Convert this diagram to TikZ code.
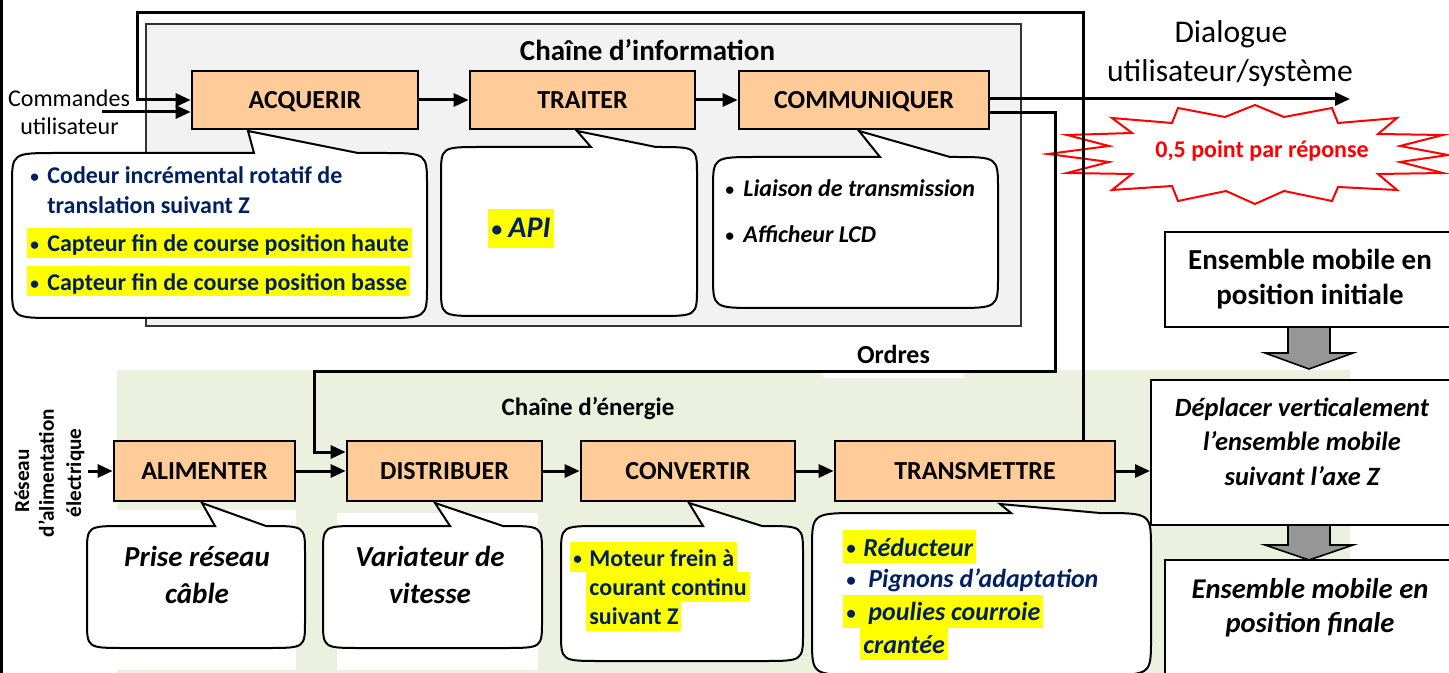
\documentclass[tikz,border=0pt]{standalone}
\usepackage{fontspec}
\setmainfont{Carlito}
\usetikzlibrary{arrows.meta}
\definecolor{peach}{HTML}{FFCC99}
\definecolor{navy}{HTML}{002060}
\definecolor{grbg}{HTML}{EBF1DE}
\definecolor{infobg}{HTML}{F2F2F2}
\definecolor{hly}{HTML}{FFFF00}
\definecolor{garr}{HTML}{969696}
\newcommand\fsz[1]{\fontsize{#1pt}{#1pt}\selectfont}
\newcommand\bul[1]{\makebox[#1][l]{\raisebox{0.05em}{\scalebox{0.72}{•}}}}
\newcommand\mybubble[9]{%
  \draw[bub] (#7,#2) -- (#5,#6) -- (#8,#2) -- (#3-#9,#2) .. controls (#3,#2) .. (#3,#2+0.72*#9)
   -- (#3,#4-0.72*#9) .. controls (#3,#4) .. (#3-#9,#4) -- (#1+#9,#4) .. controls (#1,#4) .. (#1,#4-0.72*#9)
   -- (#1,#2+0.72*#9) .. controls (#1,#2) .. (#1+#9,#2) -- cycle;}
\tikzset{
  conn/.style={line width=1.5pt, -{Triangle[length=7.5pt,width=6.5pt]}},
  fnbox/.style={draw=black, line width=1.35pt, fill=peach, inner sep=0pt, font=\bfseries\fsz{13}, text height=8.4pt, text depth=0pt},
  bub/.style={draw=black, line width=1pt, fill=white},
  rbox/.style={draw=black, line width=1pt, fill=white, inner sep=0pt},
  garrow/.style={draw=black, line width=0.8pt, fill=garr},
  bn12/.style={anchor=west, inner xsep=1.5pt, inner ysep=0pt, text height=12pt, text depth=3pt, font=\bfseries\fsz{12}, text=navy},
  bik12/.style={anchor=west, inner xsep=1.5pt, inner ysep=0pt, text height=12pt, text depth=3pt, font=\bfseries\itshape\fsz{12}, text=black},
  bin13/.style={anchor=west, inner xsep=1.5pt, inner ysep=0pt, text height=13pt, text depth=3.5pt, font=\bfseries\itshape\fsz{13}, text=navy},
  hl/.style={fill=hly},
  lbl/.style={anchor=base, inner sep=0pt},
  rot/.style={anchor=base, inner sep=0pt, rotate=90, font=\bfseries\fsz{10.6}},
}
\begin{document}
\begin{tikzpicture}[x=0.5pt,y=-0.5pt]
\useasboundingbox (0,0) rectangle (1449,673);
\clip (0,0) rectangle (1449,673);
% backgrounds
\fill[grbg] (117,370) rectangle (1350,673);
\fill[white] (117,510) rectangle (296,670);
\fill[white] (337,513) rectangle (538,670);
\fill[white] (823,371) rectangle (964,378);
\draw[black!80, line width=0.9pt, fill=infobg] (146,24) rectangle (1021,326);
\draw[line width=1.5pt] (1.5,0) -- (1.5,673);
% starburst
\draw[draw=red, line width=1pt, fill=white] (1178,108) -- (1225,117) -- (1255,105) -- (1284,117) -- (1332,108) -- (1338,123) -- (1397,118) -- (1378,134) -- (1443,135) -- (1400,146) -- (1448,155) -- (1400,162) -- (1443,173) -- (1378,174) -- (1397,190) -- (1338,187) -- (1332,201) -- (1284,191) -- (1255,204) -- (1226,191) -- (1178,201) -- (1172,186) -- (1112,190) -- (1132,174) -- (1067,173) -- (1109,162) -- (1048,154) -- (1109,146) -- (1067,135) -- (1132,133) -- (1112,118) -- (1172,123) -- cycle;
\node[lbl, font=\bfseries\fsz{12}, text=red] (pts) at (1262,158) {0,5 point par réponse};
% function boxes
\node[fnbox, minimum width=113pt, minimum height=29pt] (acq) at (305,100) {ACQUERIR};
\node[fnbox, minimum width=112.5pt, minimum height=29pt] (tra) at (582.5,100) {TRAITER};
\node[fnbox, minimum width=125pt, minimum height=29pt] (com) at (864,100) {COMMUNIQUER};
\node[fnbox, minimum width=90.5pt, minimum height=30pt] (ali) at (204.5,471) {ALIMENTER};
\node[fnbox, minimum width=97.5pt, minimum height=30pt] (dis) at (444.5,471) {DISTRIBUER};
\node[fnbox, minimum width=107pt, minimum height=30pt] (conv) at (688,471) {CONVERTIR};
\node[fnbox, minimum width=140pt, minimum height=30pt] (trans) at (975,471) {TRANSMETTRE};
% right column
\node[rbox, minimum width=147.5pt, minimum height=47.5pt] (ini) at (1312.5,279.5) {};
\node[rbox, minimum width=154.5pt, minimum height=72.5pt] (dep) at (1305.5,452.5) {};
\node[rbox, minimum width=147.5pt, minimum height=65pt] (fin) at (1312.5,625) {};
\draw[garrow] (1288,327) -- (1330,327) -- (1330,353) -- (1353,353) -- (1309,369) -- (1265,353) -- (1288,353) -- cycle;
\draw[garrow] (1288,525) -- (1330,525) -- (1330,545) -- (1353,545) -- (1309,560) -- (1265,545) -- (1288,545) -- cycle;
\node[lbl, font=\bfseries\fsz{14.5}] (ini1) at (1310,270) {Ensemble mobile en};
\node[lbl, font=\bfseries\fsz{14.5}] (ini2) at (1310,305) {position initiale};
\node[lbl, font=\bfseries\itshape\fsz{13.2}] (dep1) at (1302,416) {Déplacer verticalement};
\node[lbl, font=\bfseries\itshape\fsz{13.2}] (dep2) at (1302,450) {l’ensemble mobile};
\node[lbl, font=\bfseries\itshape\fsz{13.2}] (dep3) at (1302,485) {suivant l’axe Z};
\node[lbl, font=\bfseries\itshape\fsz{14.3}] (fin1) at (1310,598) {Ensemble mobile en};
\node[lbl, font=\bfseries\itshape\fsz{14.3}] (fin2) at (1310,632) {position finale};
% connectors
\coordinate (fbR) at (1083,13);
\coordinate (fbL) at (137,13);
\coordinate (cmd) at (102,112);
\coordinate (dlg) at (1350,99);
\coordinate (oR) at (1055,113);
\coordinate (oL) at (314,371);
\coordinate (pin) at (88,471);
\draw[conn] (trans.north -| fbR) -- (fbR) -- (fbL) |- (acq.west);
\draw[conn] (cmd) -- (cmd -| acq.west);
\draw[conn] (acq) -- (tra);
\draw[conn] (tra) -- (com);
\draw[conn] (com.east |- dlg) -- (dlg);
\draw[conn] (com.east |- oR) -- (oR) |- (oL) |- ([yshift=9.5pt]dis.west);
\draw[conn] (pin) -- (ali);
\draw[conn] (ali) -- (dis);
\draw[conn] (dis) -- (conv);
\draw[conn] (conv) -- (trans);
\draw[conn] (trans.east) -- (trans.east -| dep.west);
% bubbles
\mybubble{12}{153}{427}{318}{248}{131}{254}{358}{45}
\mybubble{441}{147}{697}{316}{577}{131}{591}{656}{40}
\mybubble{713}{157}{998}{308}{859}{131}{880}{950}{45}
\mybubble{87}{526}{305}{648}{202}{503}{215}{266}{38}
\mybubble{323}{526}{542}{648}{435}{503}{450}{503}{38}
\mybubble{561}{526}{803}{661}{689}{503}{703}{762}{40}
\mybubble{812}{513}{1151}{675}{1000}{504}{1011}{1100}{50}
% bubble texts
\node[bn12] (a1) at (27,175) {\bul{8.5pt}Codeur incrémental rotatif de};
\node[bn12] (a2) at (44,205) {translation suivant Z};
\node[bn12, hl] (a3) at (27,243) {\bul{8.5pt}Capteur fin de course position haute};
\node[bn12, hl] (a4) at (27,281.5) {\bul{8.5pt}Capteur fin de course position basse};
\node[anchor=west, inner xsep=1.5pt, inner ysep=0pt, text height=14.5pt, text depth=5pt, font=\bfseries\itshape\fsz{15}, text=navy, hl] (api) at (488,228.5) {\bul{8.5pt}API};
\node[bik12] (c1) at (722,188) {\bul{9pt}Liaison de transmission};
\node[bik12] (c2) at (722,234) {\bul{9pt}Afficheur LCD};
\node[bn12, hl] (v1) at (570,557) {\bul{8pt}Moteur frein à};
\node[bn12, hl] (v2) at (586,586.5) {courant continu};
\node[bn12, hl] (v3) at (586,615.5) {suivant Z};
\node[bin13, hl] (t1) at (843,546.5) {\bul{8.5pt}Réducteur};
\node[bin13] (t2) at (843,578) {\bul{11pt}Pignons d’adaptation};
\node[bin13, hl] (t3) at (843,611) {\bul{11pt}poulies courroie};
\node[bin13, hl] (t4) at (860,643.5) {crantée};
\node[lbl, font=\bfseries\itshape\fsz{14.5}] (p1) at (197,566) {Prise réseau};
\node[lbl, font=\bfseries\itshape\fsz{14.5}] (p2) at (197,603) {câble};
\node[lbl, font=\bfseries\itshape\fsz{14.5}] (q1) at (430,566) {Variateur de};
\node[lbl, font=\bfseries\itshape\fsz{14.5}] (q2) at (430,603) {vitesse};
% other texts
\node[lbl, font=\fsz{12}] (cmd1) at (69,107) {Commandes};
\node[lbl, font=\fsz{12}] (cmd2) at (69.5,135) {utilisateur};
\node[lbl, font=\fsz{15.8}] (dl1) at (1231,43) {Dialogue};
\node[lbl, font=\fsz{15.8}] (dl2) at (1230,82) {utilisateur/système};
\node[lbl, font=\bfseries\fsz{14.5}] (tinfo) at (647.5,61) {Chaîne d’information};
\node[lbl, font=\bfseries\fsz{12.5}] (tener) at (588,415) {Chaîne d’énergie};
\node[lbl, font=\bfseries\fsz{13}] (ordres) at (893.5,364) {Ordres};
\node[rot] (res1) at (29,481) {Réseau};
\node[rot] (res2) at (54,473) {d’alimentation};
\node[rot] (res3) at (81,473) {électrique};
\end{tikzpicture}
\end{document}
